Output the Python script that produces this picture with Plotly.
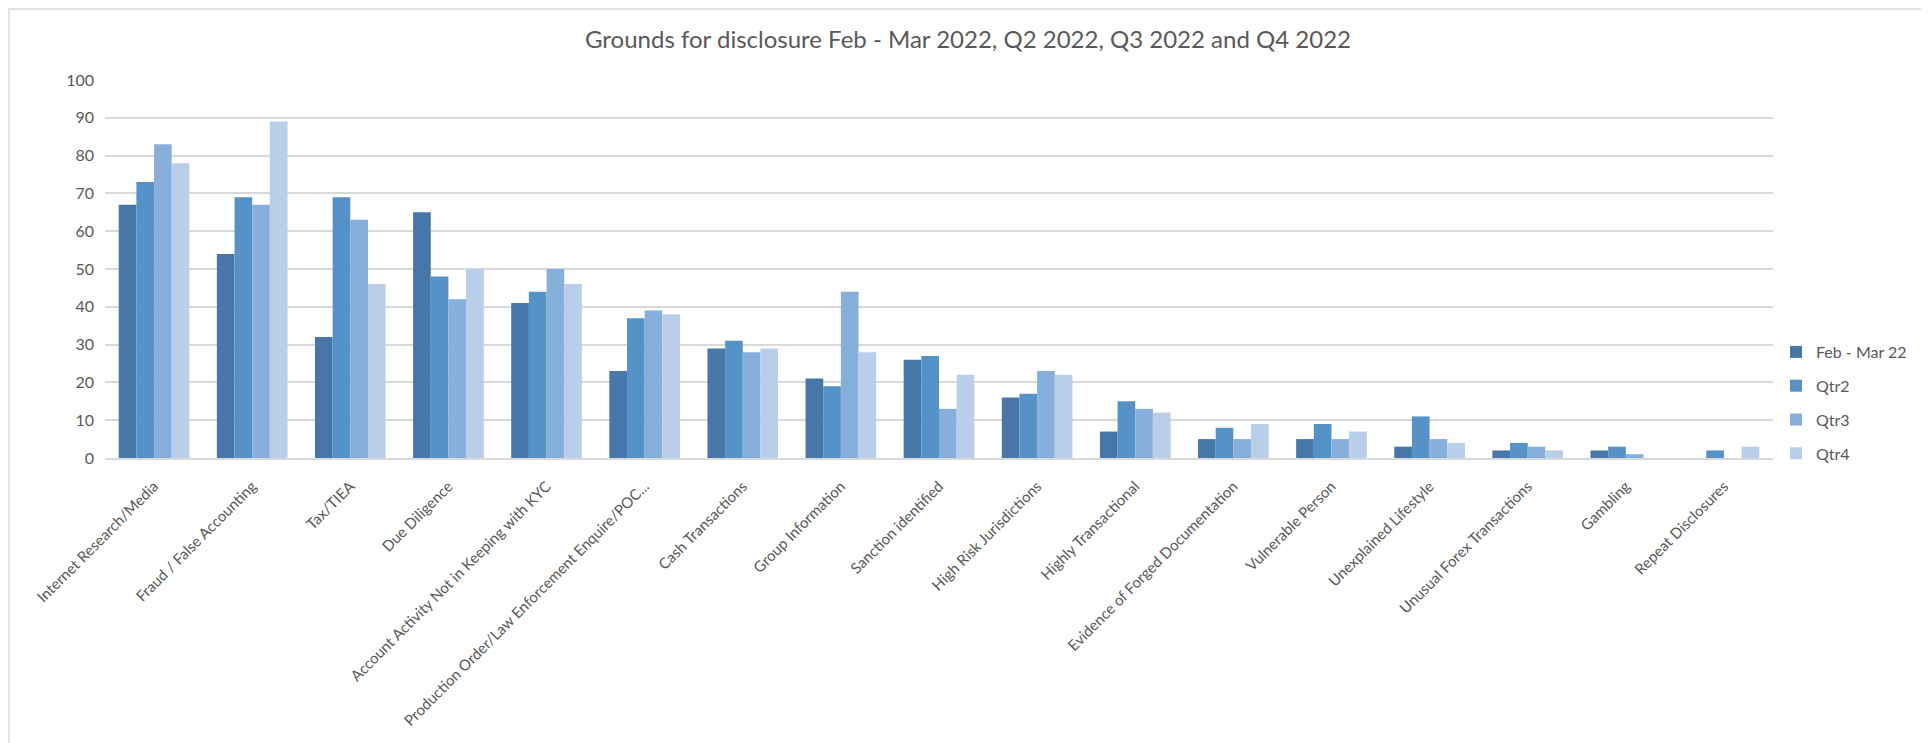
import plotly.graph_objects as go

categories = [
    "Internet Research/Media", "Fraud / False Accounting", "Tax/TIEA", "Due Diligence",
    "Account Activity Not in Keeping with KYC", "Production Order/Law Enforcement Enquire/POC...",
    "Cash Transactions", "Group Information", "Sanction identified", "High Risk Jurisdictions",
    "Highly Transactional", "Evidence of Forged Documentation", "Vulnerable Person",
    "Unexplained Lifestyle", "Unusual Forex Transactions", "Gambling", "Repeat Disclosures",
]
feb_mar_22 = [67, 54, 32, 65, 41, 23, 29, 21, 26, 16, 7, 5, 5, 3, 2, 2, 0]
qtr2 = [73, 69, 69, 48, 44, 37, 31, 19, 27, 17, 15, 8, 9, 11, 4, 3, 2]
qtr3 = [83, 67, 63, 42, 50, 39, 28, 44, 13, 23, 13, 5, 5, 5, 3, 1, 0]
qtr4 = [78, 89, 46, 50, 46, 38, 29, 28, 22, 22, 12, 9, 7, 4, 2, 0, 3]
series_names = ["Feb - Mar 22", "Qtr2", "Qtr3", "Qtr4"]
colors = ["#4777a8", "#5592c8", "#87afdc", "#b9cee8"]
y_ticks = [0, 10, 20, 30, 40, 50, 60, 70, 80, 90, 100]

FONT = "Lato"
GREY = "#595959"

fig = go.Figure()
for name, vals, col in zip(series_names, [feb_mar_22, qtr2, qtr3, qtr4], colors):
    fig.add_trace(go.Bar(
        x=categories, y=vals, name=name, legendgroup=name,
        marker=dict(color=col, line=dict(width=0)),
    ))

OFF = 8  # browser default body margin
W, H = 1929 - OFF, 743 - OFF
L = 105 - OFF
R = 1929 - 1773
T = 80 - OFF
B = 743 - 458
pw, ph = W - L - R, H - T - B

def px_x(p):  # page pixel -> paper
    return (p - OFF - L) / pw

def px_y(p):
    return (H - B - (p - OFF)) / ph

fig.update_layout(
    width=W, height=H,
    margin=dict(l=L, r=R, t=T, b=B, autoexpand=False),
    paper_bgcolor="white", plot_bgcolor="white",
    barmode="group", bargap=0.28, bargroupgap=0,
    title=dict(text="Grounds for disclosure Feb - Mar 2022, Q2 2022, Q3 2022 and Q4 2022",
               x=(968 - OFF) / W, xanchor="center", y=1 - (40 - OFF) / H, yanchor="middle",
               font=dict(family=FONT, size=24, color=GREY)),
    font=dict(family=FONT, color=GREY),
    legend=dict(x=px_x(1776), xanchor="left", y=px_y(403), yanchor="middle",
                font=dict(family=FONT, size=16, color=GREY),
                tracegroupgap=10, itemwidth=30, bgcolor="rgba(0,0,0,0)"),
    xaxis=dict(tickangle=-45, tickfont=dict(family=FONT, size=15, color=GREY),
               showgrid=False, showline=True, linecolor="#d9d9d9", linewidth=1.5,
               ticks="", ticklabelstandoff=12, automargin=False),
    yaxis=dict(range=[0, 100], tickvals=y_ticks, tickfont=dict(family=FONT, size=16, color=GREY),
               showgrid=True, gridcolor="#d9d9d9", gridwidth=1.5, zeroline=False,
               showline=False, ticks="", ticklabelstandoff=10, automargin=False),
    shapes=[dict(type="rect", xref="paper", yref="paper",
                 x0=px_x(9), x1=px_x(1923), y0=px_y(760), y1=px_y(9),
                 line=dict(color="#d9d9d9", width=1.5), fillcolor="rgba(0,0,0,0)", layer="below")],
)

fig.write_html("out.html")
